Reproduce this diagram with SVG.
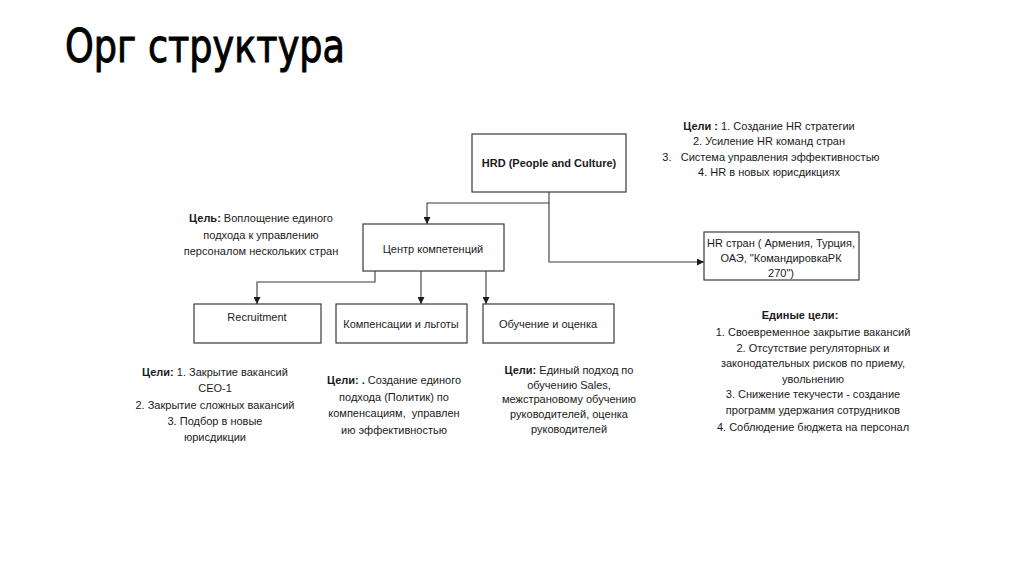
<svg xmlns="http://www.w3.org/2000/svg" width="1024" height="574" viewBox="0 0 1024 574">
<style>
.box{fill:#fff;stroke:#3a3a3a;stroke-width:1.2}
.t{font-family:"Liberation Sans",Arial,sans-serif;font-size:11px;fill:#1a1a1a;text-anchor:middle;white-space:pre}
.b{font-weight:bold}
.title{font-family:"DejaVu Sans Condensed","Liberation Sans Narrow",sans-serif;font-size:46px;fill:#000;stroke:#000;stroke-width:0.9}
.conn path{fill:none;stroke:#3a3a3a;stroke-width:1.1}
</style>
<defs>
<marker id="arr" viewBox="0 0 8 8" refX="8" refY="4" markerWidth="7" markerHeight="7" markerUnits="userSpaceOnUse" orient="auto">
<path d="M0,0 L8,4 L0,8 z" fill="#1a1a1a"/>
</marker>
</defs>
<rect width="1024" height="574" fill="#fff"/>
<text class="title" x="65" y="62" textLength="280" lengthAdjust="spacingAndGlyphs">Орг структура</text>

<g class="conn">
<path d="M549,192 V203 H427 V224" marker-end="url(#arr)"/>
<path d="M549,203 V262 H704" marker-end="url(#arr)"/>
<path d="M375,271 V282 H257 V304" marker-end="url(#arr)"/>
<path d="M421,271 V304" marker-end="url(#arr)"/>
<path d="M486,271 V304" marker-end="url(#arr)"/>
</g>

<g id="hrd">
<rect class="box" x="472" y="134" width="154" height="58"/>
<text class="t b" x="549" y="167">HRD (People and Culture)</text>
</g>
<g id="centr">
<rect class="box" x="363" y="224" width="141" height="47"/>
<text class="t" x="433" y="253">Центр компетенций</text>
</g>
<g id="hr-stran">
<rect class="box" x="704" y="232" width="155" height="48"/>
<text class="t" x="781" y="247">HR стран ( Армения, Турция,</text>
<text class="t" x="781" y="262">ОАЭ, "КомандировкаРК</text>
<text class="t" x="781" y="277">270")</text>
</g>
<g id="recruitment">
<rect class="box" x="194" y="304" width="127" height="39"/>
<text class="t" x="257" y="321">Recruitment</text>
</g>
<g id="komp">
<rect class="box" x="336" y="304" width="131" height="39"/>
<text class="t" x="401" y="328">Компенсации и льготы</text>
</g>
<g id="obuch">
<rect class="box" x="483" y="304" width="131" height="39"/>
<text class="t" x="548" y="328">Обучение и оценка</text>
</g>

<g id="goals-hrd">
<text class="t" x="769" y="130"><tspan class="b">Цели :</tspan> 1. Создание HR стратегии</text>
<text class="t" x="769" y="145">2. Усиление HR команд стран</text>
<text class="t" x="771" y="161">3.   Система управления эффективностью</text>
<text class="t" x="769" y="176">4. HR в новых юрисдикциях</text>
</g>
<g id="goal-centr">
<text class="t" x="261" y="222"><tspan class="b">Цель:</tspan> Воплощение единого</text>
<text class="t" x="261" y="239">подхода к управлению</text>
<text class="t" x="261" y="255">персоналом нескольких стран</text>
</g>
<g id="goals-recr">
<text class="t" x="215" y="376"><tspan class="b">Цели:</tspan> 1. Закрытие вакансий</text>
<text class="t" x="215" y="392">СЕО-1</text>
<text class="t" x="215" y="409">2. Закрытие сложных вакансий</text>
<text class="t" x="215" y="425">3. Подбор в новые</text>
<text class="t" x="215" y="441">юрисдикции</text>
</g>
<g id="goals-komp">
<text class="t" x="394" y="384"><tspan class="b">Цели: .</tspan> Создание единого</text>
<text class="t" x="394" y="401">подхода (Политик) по</text>
<text class="t" x="394" y="417">компенсациям,  управлен</text>
<text class="t" x="394" y="434">ию эффективностью</text>
</g>
<g id="goals-obuch">
<text class="t" x="569" y="374"><tspan class="b">Цели:</tspan> Единый подход по</text>
<text class="t" x="569" y="389">обучению Sales,</text>
<text class="t" x="569" y="403">межстрановому обучению</text>
<text class="t" x="569" y="418">руководителей, оценка</text>
<text class="t" x="569" y="433">руководителей</text>
</g>
<g id="goals-common">
<text class="t b" x="800" y="319">Единые цели:</text>
<text class="t" x="813" y="336">1. Своевременное закрытие вакансий</text>
<text class="t" x="813" y="352">2. Отсутствие регуляторных и</text>
<text class="t" x="813" y="367">законодательных рисков по приему,</text>
<text class="t" x="813" y="383">увольнению</text>
<text class="t" x="813" y="398">3. Снижение текучести - создание</text>
<text class="t" x="813" y="414">программ удержания сотрудников</text>
<text class="t" x="813" y="431">4. Соблюдение бюджета на персонал</text>
</g>
</svg>
